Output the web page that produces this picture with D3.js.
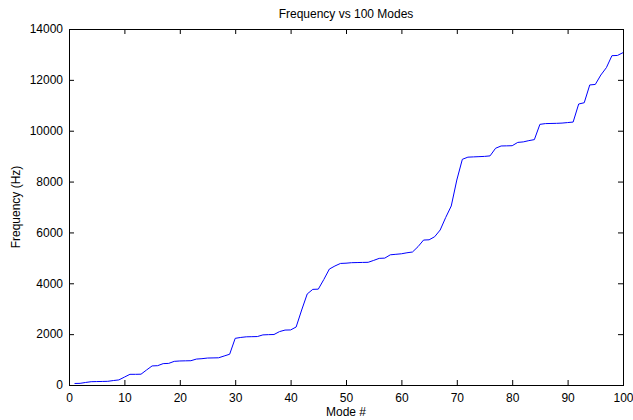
<!DOCTYPE html>
<html>
<head>
<meta charset="utf-8">
<script src="https://cdn.jsdelivr.net/npm/d3@7"></script>
<style>
  body { margin: 0; background: #fff; }
  text { font-family: "Liberation Sans", Arial, sans-serif; fill: #000; }
</style>
</head>
<body>
<svg width="633" height="420"></svg>
<script>
var modes = d3.range(1, 101)
var freqs = [60, 65, 100, 130, 135, 140, 145, 175, 200, 310,
  420, 420, 425, 590, 750, 760, 840, 850, 930, 945,
  950, 955, 1020, 1035, 1060, 1065, 1070, 1140, 1210, 1835,
  1870, 1895, 1900, 1905, 1970, 1980, 1985, 2100, 2160, 2165,
  2280, 2950, 3580, 3760, 3770, 4150, 4560, 4680, 4780, 4790,
  4810, 4815, 4820, 4825, 4900, 4980, 4990, 5120, 5140, 5160,
  5200, 5230, 5440, 5700, 5710, 5830, 6095, 6590, 7040, 8060,
  8875, 8960, 8970, 8980, 8990, 9010, 9310, 9400, 9405, 9410,
  9540, 9560, 9610, 9650, 10250, 10280, 10285, 10290, 10300, 10320,
  10340, 11050, 11100, 11800, 11820, 12190, 12480, 12950, 12960, 13070]
var xTicks = [0, 10, 20, 30, 40, 50, 60, 70, 80, 90, 100]
var yTicks = [0, 2000, 4000, 6000, 8000, 10000, 12000, 14000]

var plotLeft = 69, plotRight = 623, plotTop = 29, plotBottom = 385
var tickLen = 5

var svg = d3.select('svg')
var x = d3.scaleLinear().domain([0, 100]).range([plotLeft, plotRight])
var y = d3.scaleLinear().domain([0, 14000]).range([plotBottom, plotTop])

// ticks on all four sides, pointing inward
svg.append('g')
  .attr('transform', 'translate(0,' + plotBottom + ')')
  .call(d3.axisBottom(x).tickValues(xTicks).tickSizeInner(-tickLen).tickSizeOuter(0).tickPadding(8))
svg.append('g')
  .attr('transform', 'translate(0,' + plotTop + ')')
  .call(d3.axisTop(x).tickValues(xTicks).tickSizeInner(-tickLen).tickSizeOuter(0).tickFormat(''))
svg.append('g')
  .attr('transform', 'translate(' + plotLeft + ',0)')
  .call(d3.axisLeft(y).tickValues(yTicks).tickSizeInner(-tickLen).tickSizeOuter(0).tickPadding(6).tickFormat(d3.format('d')))
svg.append('g')
  .attr('transform', 'translate(' + plotRight + ',0)')
  .call(d3.axisRight(y).tickValues(yTicks).tickSizeInner(-tickLen).tickSizeOuter(0).tickFormat(''))

svg.selectAll('.domain').remove()
svg.selectAll('.tick line').attr('stroke', '#000')
svg.selectAll('.tick text').attr('font-size', 12).attr('font-family', '"Liberation Sans", Arial, sans-serif')

// box, offset half a pixel so the 1px stroke stays sharp
svg.append('rect')
  .attr('x', plotLeft + 0.5).attr('y', plotTop + 0.5)
  .attr('width', plotRight - plotLeft).attr('height', plotBottom - plotTop)
  .attr('fill', 'none').attr('stroke', '#000').attr('stroke-width', 1)

var line = d3.line()
  .x(function(d, i){ return x(modes[i]) })
  .y(function(d){ return y(d) })

svg.append('path')
  .datum(freqs)
  .attr('d', line)
  .attr('fill', 'none')
  .attr('stroke', '#0000ff')
  .attr('stroke-width', 1)

svg.append('text')
  .text('Frequency vs 100 Modes')
  .attr('x', (plotLeft + plotRight) / 2)
  .attr('y', 18)
  .attr('text-anchor', 'middle')
  .attr('font-size', 12)

svg.append('text')
  .text('Mode #')
  .attr('x', (plotLeft + plotRight) / 2)
  .attr('y', 416)
  .attr('text-anchor', 'middle')
  .attr('font-size', 12)

svg.append('text')
  .text('Frequency (Hz)')
  .attr('transform', 'translate(20,' + (plotTop + plotBottom) / 2 + ') rotate(-90)')
  .attr('text-anchor', 'middle')
  .attr('font-size', 12)
</script>
</body>
</html>
